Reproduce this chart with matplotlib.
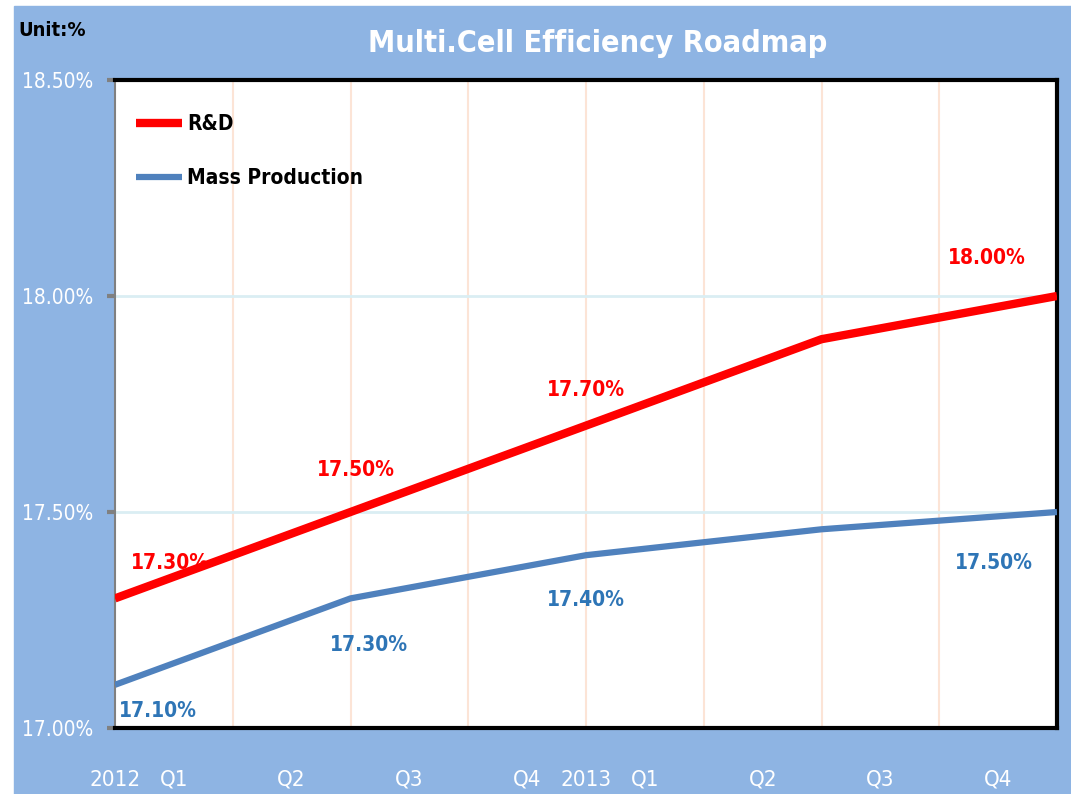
import matplotlib
matplotlib.use("Agg")
import matplotlib.pyplot as plt

plt.rcParams['font.family'] = ['Liberation Sans Narrow', 'DejaVu Sans']
plt.rcParams['font.stretch'] = 'condensed'

periodos = [0, 1, 2, 3, 4, 5, 6, 7, 8]
rd = [17.30, 17.40, 17.50, 17.60, 17.70, 17.80, 17.90, 17.95, 18.00]
mass = [17.10, 17.20, 17.30, 17.35, 17.40, 17.43, 17.46, 17.48, 17.50]

rotulos_x = ["2012", "Q1", "Q2", "Q3", "Q4", "2013", "Q1", "Q2", "Q3", "Q4"]
pos_rotulos_x = [0, 0.5, 1.5, 2.5, 3.5, 4, 4.5, 5.5, 6.5, 7.5]
ticks_y = [17.0, 17.5, 18.0, 18.5]

# quais pontos recebem rotulo
idx_rd = [0, 2, 4, 8]
idx_mass = [0, 2, 4, 8]
desloc_rd = [(55, 35), (5, 42), (0, 36), (-70, 38)]
desloc_mass = [(43, -26), (18, -47), (0, -45), (-63, -51)]

fundo = '#8EB4E3'
vermelho = '#FF0000'
azul = '#4F81BD'
azul_txt = '#2E75B6'

fig = plt.figure(figsize=(10.71, 7.94), dpi=100)
fig.patch.set_facecolor('white')
fig.patches.append(plt.Rectangle((14 / 1071, 0), 1, (794 - 6) / 794,
                                 transform=fig.transFigure, color=fundo, zorder=-1))

ax = fig.add_axes([115 / 1071, 66 / 794, 942 / 1071, 648 / 794])
ax.set_zorder(2)
ax.set_facecolor('white')

ax.plot(periodos, rd, color=vermelho, linewidth=6, label="R&D", solid_capstyle='butt', zorder=3)
ax.plot(periodos, mass, color=azul, linewidth=4.5, label="Mass Production", solid_capstyle='butt', zorder=3)

for i, d in zip(idx_rd, desloc_rd):
    ax.annotate(f"{rd[i]:.2f}%", (periodos[i], rd[i]), xytext=d, textcoords='offset pixels',
                ha='center', va='center', color=vermelho, fontsize=15, fontweight='bold')
for i, d in zip(idx_mass, desloc_mass):
    ax.annotate(f"{mass[i]:.2f}%", (periodos[i], mass[i]), xytext=d, textcoords='offset pixels',
                ha='center', va='center', color=azul_txt, fontsize=15, fontweight='bold')

ax.set_xlim(0, 8)
ax.set_ylim(17.0, 18.5)

for x in periodos[1:-1]:
    ax.axvline(x, color='#FCE4D6', linewidth=1.5, zorder=1)
for y in [17.5, 18.0]:
    ax.axhline(y, color='#DAEEF3', linewidth=2, zorder=1)

ax.set_yticks(ticks_y)
ax.set_yticklabels([f"{v:.2f}%" for v in ticks_y], color='white', fontsize=15)
ax.tick_params(axis='y', length=6, width=3, color='#808080', pad=10)

ax.set_xticks(pos_rotulos_x)
ax.set_xticklabels(rotulos_x, color='white', fontsize=16)
ax.tick_params(axis='x', length=0, pad=30)

for lado in ['top', 'right', 'bottom']:
    ax.spines[lado].set_color('black')
    ax.spines[lado].set_linewidth(3)
ax.spines['left'].set_color('#808080')
ax.spines['left'].set_linewidth(1.5)

leg = ax.legend(loc='upper left', frameon=False, fontsize=15, handlelength=2.2,
                labelspacing=1.65, borderaxespad=0.6, handletextpad=0.25,
                bbox_to_anchor=(0.0, 0.98))
for t in leg.get_texts():
    t.set_fontweight('bold')

fig.text(598 / 1071, 1 - 43 / 794, "Multi.Cell Efficiency Roadmap", color='white',
         fontsize=22, fontweight='bold', ha='center', va='center')
fig.text(18 / 1071, 1 - 30 / 794, "Unit:%", color='black', fontsize=14.5,
         fontweight='bold', ha='left', va='center')

plt.savefig("out.png", dpi=100, facecolor=fig.get_facecolor())
